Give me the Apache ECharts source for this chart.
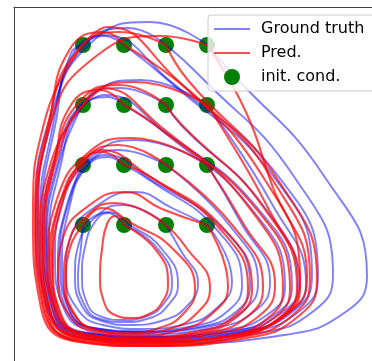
<!DOCTYPE html>
<html><head><meta charset="utf-8">
<script src="https://cdn.jsdelivr.net/npm/echarts@6/dist/echarts.min.js"></script>
<style>html,body{margin:0;padding:0;background:#fff}#c{width:372px;height:361px}</style>
</head><body><div id="c"></div>
<script>
// initial conditions (grid)
const initX = [0.83, 1.24, 1.66, 2.07];
const initY = [3.00, 2.40, 1.80, 1.20];

// ground-truth trajectories (x, y), one per initial condition
const gt11 = [[0.83,3.00],[0.71,2.92],[0.54,2.25],[0.40,1.27],[0.48,0.42],[0.82,0.10],[1.57,0.05],[2.48,0.13],[3.01,0.35],[3.18,0.69],[2.82,1.64],[1.70,2.64],[1.03,3.10],[0.83,3.00]];
const gt21 = [[1.24,3.00],[1.04,3.09],[0.73,2.91],[0.56,2.24],[0.42,1.27],[0.50,0.42],[0.82,0.11],[1.55,0.06],[2.44,0.14],[2.96,0.36],[3.12,0.70],[2.77,1.64],[1.69,2.64],[1.24,3.00]];
const gt31 = [[1.66,3.00],[1.28,3.17],[0.83,2.98],[0.53,2.29],[0.38,1.29],[0.47,0.42],[0.82,0.09],[1.62,0.04],[2.59,0.12],[3.15,0.35],[3.33,0.70],[2.95,1.67],[1.99,2.70],[1.66,3.00]];
const gt41 = [[2.07,3.00],[1.50,3.23],[0.93,3.04],[0.52,2.33],[0.36,1.30],[0.46,0.41],[0.86,0.07],[1.75,0.02],[2.84,0.10],[3.47,0.34],[3.67,0.69],[3.24,1.69],[2.29,2.75],[2.07,3.00]];
const gt12 = [[0.83,2.40],[0.59,1.82],[0.47,1.05],[0.54,0.37],[0.84,0.12],[1.50,0.08],[2.31,0.14],[2.77,0.32],[2.92,0.59],[2.60,1.34],[1.64,2.14],[1.05,2.50],[0.83,2.40]];
const gt22 = [[1.24,2.40],[1.08,2.48],[0.79,2.34],[0.61,1.81],[0.49,1.05],[0.56,0.38],[0.84,0.13],[1.48,0.09],[2.26,0.15],[2.71,0.33],[2.85,0.59],[2.54,1.33],[1.65,2.12],[1.24,2.40]];
const gt32 = [[1.66,2.40],[1.20,2.57],[0.83,2.42],[0.59,1.87],[0.46,1.08],[0.54,0.38],[0.84,0.12],[1.52,0.08],[2.35,0.14],[2.83,0.33],[2.98,0.60],[2.65,1.37],[1.81,2.20],[1.66,2.40]];
const gt42 = [[2.07,2.40],[1.40,2.65],[0.92,2.50],[0.57,1.93],[0.44,1.10],[0.52,0.38],[0.83,0.11],[1.54,0.07],[2.41,0.13],[2.90,0.33],[3.06,0.61],[2.72,1.41],[2.07,2.40]];
const gt13 = [[0.83,1.80],[0.66,1.37],[0.58,0.84],[0.66,0.36],[0.91,0.17],[1.39,0.13],[1.98,0.18],[2.37,0.34],[2.50,0.61],[2.23,1.16],[1.51,1.65],[1.05,1.90],[0.83,1.80]];
const gt23 = [[1.24,1.80],[1.08,1.88],[0.85,1.76],[0.69,1.36],[0.62,0.84],[0.69,0.37],[0.93,0.17],[1.38,0.14],[1.93,0.19],[2.29,0.35],[2.42,0.61],[2.17,1.15],[1.51,1.64],[1.24,1.80]];
const gt33 = [[1.66,1.80],[1.18,1.95],[0.89,1.82],[0.68,1.40],[0.60,0.86],[0.68,0.37],[0.94,0.17],[1.43,0.13],[2.05,0.18],[2.44,0.35],[2.58,0.62],[2.30,1.19],[1.66,1.80]];
const gt43 = [[2.07,1.80],[1.35,2.05],[0.95,1.91],[0.64,1.47],[0.55,0.89],[0.64,0.36],[0.92,0.15],[1.45,0.11],[2.12,0.17],[2.55,0.34],[2.70,0.63],[2.40,1.24],[2.07,1.80]];
const gt14 = [[0.83,1.20],[0.81,0.98],[0.78,0.69],[0.84,0.41],[1.00,0.26],[1.23,0.23],[1.50,0.27],[1.70,0.42],[1.78,0.61],[1.61,0.97],[1.30,1.20],[1.08,1.33],[0.83,1.20]];
const gt24 = [[1.24,1.20],[1.08,1.32],[0.95,1.23],[0.85,0.98],[0.82,0.70],[0.87,0.42],[1.02,0.28],[1.22,0.25],[1.47,0.29],[1.65,0.43],[1.72,0.62],[1.57,0.97],[1.24,1.20]];
const gt34 = [[1.66,1.20],[1.22,1.40],[0.98,1.30],[0.79,1.02],[0.75,0.70],[0.82,0.39],[1.02,0.24],[1.30,0.20],[1.64,0.25],[1.88,0.40],[1.98,0.62],[1.81,0.94],[1.66,1.20]];
const gt44 = [[2.07,1.20],[1.72,1.37],[1.35,1.53],[1.01,1.42],[0.71,1.09],[0.66,0.74],[0.76,0.38],[1.03,0.20],[1.41,0.16],[1.86,0.21],[2.19,0.39],[2.32,0.64],[2.07,1.20]];

// predicted trajectories
const pr11 = [[0.83,3.00],[0.46,2.29],[0.33,1.27],[0.41,0.37],[0.73,0.04],[1.45,-0.01],[2.33,0.07],[2.84,0.31],[3.00,0.66],[2.65,1.65],[1.72,2.70],[1.08,3.18],[0.83,3.00]];
const pr21 = [[1.24,3.00],[1.04,3.13],[0.70,2.96],[0.50,2.25],[0.36,1.25],[0.44,0.38],[0.77,0.05],[1.51,0.00],[2.42,0.08],[2.94,0.31],[3.10,0.66],[2.74,1.63],[2.00,2.45],[1.24,3.00]];
const pr31 = [[1.66,3.00],[1.20,3.13],[0.77,2.94],[0.49,2.25],[0.35,1.25],[0.43,0.37],[0.77,0.04],[1.53,-0.01],[2.47,0.07],[3.00,0.30],[3.17,0.65],[2.80,1.62],[1.87,2.66],[1.66,3.00]];
const pr41 = [[2.07,3.00],[1.60,3.09],[0.99,2.91],[0.51,2.23],[0.38,1.25],[0.46,0.40],[0.78,0.08],[1.51,0.01],[2.40,0.11],[2.91,0.34],[3.07,0.68],[2.72,1.60],[2.45,2.35],[2.07,3.00]];
const pr12 = [[0.83,2.40],[0.52,1.86],[0.40,1.04],[0.47,0.33],[0.76,0.06],[1.42,0.02],[2.22,0.08],[2.68,0.27],[2.83,0.56],[2.51,1.35],[1.60,2.19],[1.02,2.57],[0.83,2.40]];
const pr22 = [[1.24,2.40],[1.00,2.55],[0.71,2.40],[0.55,1.84],[0.43,1.04],[0.50,0.33],[0.80,0.07],[1.47,0.03],[2.28,0.09],[2.75,0.28],[2.90,0.56],[2.58,1.34],[1.59,2.17],[1.24,2.40]];
const pr32 = [[1.66,2.40],[1.20,2.60],[0.81,2.45],[0.55,1.88],[0.42,1.06],[0.50,0.34],[0.80,0.07],[1.49,0.03],[2.33,0.09],[2.82,0.29],[2.97,0.57],[2.64,1.37],[1.81,2.21],[1.66,2.40]];
const pr42 = [[2.07,2.40],[1.35,2.63],[0.90,2.47],[0.58,1.90],[0.45,1.08],[0.53,0.35],[0.83,0.08],[1.52,0.04],[2.36,0.10],[2.85,0.30],[3.00,0.58],[2.67,1.39],[2.07,2.40]];
const pr13 = [[0.83,1.80],[0.58,1.38],[0.50,0.82],[0.58,0.31],[0.84,0.10],[1.35,0.06],[1.97,0.12],[2.38,0.29],[2.52,0.57],[2.24,1.16],[1.49,1.69],[1.00,1.95],[0.83,1.80]];
const pr23 = [[1.24,1.80],[1.02,1.93],[0.79,1.80],[0.61,1.37],[0.53,0.81],[0.61,0.31],[0.86,0.11],[1.35,0.07],[1.95,0.13],[2.34,0.29],[2.48,0.57],[2.21,1.15],[1.52,1.67],[1.24,1.80]];
const pr33 = [[1.66,1.80],[1.18,2.00],[0.85,1.86],[0.60,1.42],[0.52,0.84],[0.60,0.31],[0.88,0.10],[1.41,0.06],[2.06,0.12],[2.48,0.29],[2.63,0.58],[2.33,1.19],[1.66,1.80]];
const pr43 = [[2.07,1.80],[1.30,2.07],[0.89,1.93],[0.57,1.46],[0.48,0.86],[0.57,0.31],[0.87,0.09],[1.43,0.05],[2.14,0.11],[2.59,0.29],[2.75,0.60],[2.43,1.22],[2.07,1.80]];
const pr14 = [[0.83,1.20],[0.70,0.97],[0.66,0.64],[0.74,0.32],[0.94,0.16],[1.24,0.12],[1.59,0.17],[1.85,0.33],[1.95,0.56],[1.73,0.96],[1.31,1.22],[1.02,1.37],[0.83,1.20]];
const pr24 = [[1.24,1.20],[1.15,1.29],[1.07,1.21],[1.02,0.96],[1.00,0.70],[1.04,0.43],[1.15,0.30],[1.31,0.27],[1.49,0.31],[1.63,0.44],[1.68,0.63],[1.56,0.95],[1.24,1.20]];
const pr34 = [[1.66,1.20],[1.15,1.42],[0.90,1.32],[0.68,1.00],[0.64,0.66],[0.73,0.32],[0.96,0.15],[1.30,0.11],[1.69,0.16],[1.98,0.33],[2.10,0.57],[1.85,0.99],[1.66,1.20]];
const pr44 = [[2.07,1.20],[1.62,1.36],[1.25,1.53],[0.91,1.41],[0.63,1.07],[0.58,0.69],[0.68,0.32],[0.95,0.13],[1.35,0.09],[1.80,0.15],[2.14,0.33],[2.28,0.59],[2.07,1.20]];

const groundTruth = [gt11,gt21,gt31,gt41,gt12,gt22,gt32,gt42,gt13,gt23,gt33,gt43,gt14,gt24,gt34,gt44];
const predicted = [pr11,pr21,pr31,pr41,pr12,pr22,pr32,pr42,pr13,pr23,pr33,pr43,pr14,pr24,pr34,pr44];

const BLUE = 'rgba(0,0,255,0.5)';
const RED = 'rgba(255,0,0,0.7)';
const GREEN = '#008000';

const initPoints = [];
initY.forEach(y => initX.forEach(x => initPoints.push([x, y])));

const series = [{
  type: 'scatter', name: 'init. cond.', data: initPoints,
  symbol: 'circle', symbolSize: 16, itemStyle: { color: GREEN, opacity: 1 }, z: 1
}];
groundTruth.forEach(d => series.push({
  type: 'line', name: 'Ground truth', data: d, smooth: 0.5, showSymbol: false,
  color: BLUE, lineStyle: { color: BLUE, width: 1.9 }, itemStyle: { color: BLUE }, z: 2
}));
predicted.forEach(d => series.push({
  type: 'line', name: 'Pred.', data: d, smooth: 0.5, showSymbol: false,
  color: RED, lineStyle: { color: RED, width: 2.1 }, itemStyle: { color: RED }, z: 3
}));

const chart = echarts.init(document.getElementById('c'), null, { renderer: 'canvas' });
chart.setOption({
  animation: false,
  backgroundColor: '#ffffff',
  grid: { left: 14, top: 7, right: 0, bottom: 0, outerBoundsMode: 'none', containLabel: false, show: false },
  xAxis: { type: 'value', position: 'top', min: 0.14, max: 3.72,
    axisLine: { show: true, onZero: false, lineStyle: { color: '#444', width: 1 } },
    axisTick: { show: false }, axisLabel: { show: false }, splitLine: { show: false } },
  yAxis: { type: 'value', position: 'left', min: -0.16, max: 3.38,
    axisLine: { show: true, onZero: false, lineStyle: { color: '#444', width: 1 } },
    axisTick: { show: false }, axisLabel: { show: false }, splitLine: { show: false } },
  legend: {
    left: 208, top: 15, orient: 'vertical',
    itemWidth: 36, itemHeight: 16, itemGap: 8,
    padding: [6, 14, 6, 6],
    backgroundColor: 'rgba(255,255,255,0.8)', borderColor: '#cccccc', borderWidth: 1, borderRadius: 3,
    textStyle: { fontFamily: 'DejaVu Sans', fontSize: 16, color: '#000', padding: [0, 0, 0, 6] },
    selectedMode: false,
    data: [
      { name: 'Ground truth', icon: 'path://M0,0H36V2H0Z' },
      { name: 'Pred.', icon: 'path://M0,0H36V2H0Z' },
      { name: 'init. cond.', icon: 'circle' }
    ]
  },
  series: series
});
</script>
</body></html>
